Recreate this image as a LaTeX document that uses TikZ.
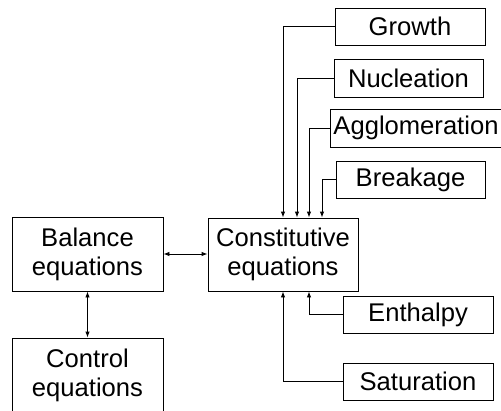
\documentclass[tikz,border=0pt]{standalone}
\usepackage{fontspec}
\setmainfont{Liberation Sans}
\usetikzlibrary{arrows.meta,calc}
\begin{document}
\begin{tikzpicture}[x=1pt,y=-1pt,
  box/.style={draw,line width=0.9pt,inner sep=0pt,align=center,
    font=\fontsize{25.6}{29}\selectfont},
  link/.style={line width=0.9pt,-{Latex[length=6pt,width=4.5pt]}},
  both/.style={line width=0.9pt,{Latex[length=6pt,width=4.5pt]}-{Latex[length=6pt,width=4.5pt]}}]
\useasboundingbox (0,0) rectangle (501,410);
\clip (0,0) rectangle (501,410);
% modules feeding the constitutive equations
\node[box,minimum width=150pt,minimum height=37pt] (gro) at (410,26.5) {Growth};
\node[box,minimum width=149pt,minimum height=38pt] (nuc) at (408.5,78) {Nucleation};
\node[box,minimum width=172pt,minimum height=38pt] (agg) at (416,128) {Agglomeration};
\node[box,minimum width=149pt,minimum height=37pt] (brk) at (410.5,179.5) {Breakage};
\node[box,minimum width=150pt,minimum height=37pt] (ent) at (418,314.5) {Enthalpy};
\node[box,minimum width=150pt,minimum height=37pt] (sat) at (418,381.5) {Saturation};
% main blocks
\node[box,minimum width=150pt,minimum height=73pt] (con) at (283,254.5) {Constitutive\\equations};
\node[box,minimum width=151pt,minimum height=74pt] (bal) at (87.5,254) {Balance\\equations};
\node[box,minimum width=151pt,minimum height=74pt] (ctl) at (87.5,375) {Control\\equations};
% connectors
\draw[link] (gro.west) -| (con.north);
\draw[link] (nuc.west) -| ($(con.north)+(14,0)$);
\draw[link] (agg.west) -| ($(con.north)+(26,0)$);
\draw[link] (brk.west) -| ($(con.north)+(39,0)$);
\draw[link] (ent.west) -| ($(con.south)+(26,0)$);
\draw[link] (sat.west) -| (con.south);
\draw[both] (bal.east) -- (bal.east -| con.west);
\draw[both] (bal.south) -- (ctl.north);
\end{tikzpicture}
\end{document}
